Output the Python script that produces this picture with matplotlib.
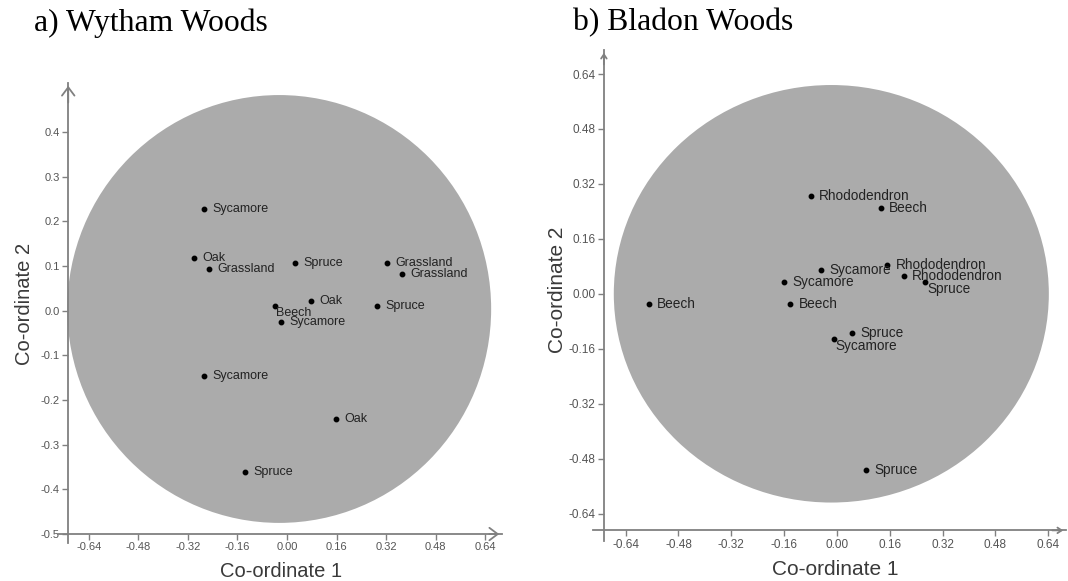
import numpy as np
from matplotlib import pyplot as plt
from matplotlib.patches import Ellipse

plt.rcParams['axes.unicode_minus'] = False
plt.rcParams['font.family'] = ['Liberation Sans', 'DejaVu Sans']

# a) Wytham Woods
wytham_labels = ['Sycamore', 'Oak', 'Grassland', 'Spruce', 'Grassland', 'Grassland',
                 'Beech', 'Oak', 'Spruce', 'Sycamore', 'Sycamore', 'Oak', 'Spruce']
wytham_x = [-0.268, -0.300, -0.252, 0.026, 0.323, 0.371,
            -0.039, 0.077, 0.290, -0.019, -0.268, 0.158, -0.135]
wytham_y = [0.228, 0.118, 0.093, 0.107, 0.107, 0.082,
            0.011, 0.022, 0.011, -0.025, -0.146, -0.242, -0.361]

# b) Bladon Woods
bladon_labels = ['Rhododendron', 'Beech', 'Rhododendron', 'Sycamore', 'Rhododendron',
                 'Sycamore', 'Spruce', 'Beech', 'Beech', 'Spruce', 'Sycamore', 'Spruce']
bladon_x = [-0.079, 0.133, 0.152, -0.048, 0.203,
            -0.161, 0.267, -0.570, -0.142, 0.045, -0.009, 0.088]
bladon_y = [0.284, 0.249, 0.083, 0.069, 0.051,
            0.034, 0.034, -0.031, -0.031, -0.115, -0.133, -0.512]

x_ticks = [-0.64, -0.48, -0.32, -0.16, 0.00, 0.16, 0.32, 0.48, 0.64]
wytham_yticks = [-0.5, -0.4, -0.3, -0.2, -0.1, 0.0, 0.1, 0.2, 0.3, 0.4]
bladon_yticks = x_ticks

axcol = '#808080'
labcol = '#3a3a3a'


def panel(ax, xs, ys, names, yticks, yfmt, xlim, ylim, spine_x, spine_y,
          ell, head, tick_fs, pt_fs, lab_fs, shifted):
    ax.add_patch(Ellipse(ell[0], ell[1], ell[2], facecolor='#ababab',
                         edgecolor='none', zorder=0))
    ax.plot(xs, ys, 'o', color='black', markersize=3.2, zorder=3)
    for i, (x, y, n) in enumerate(zip(xs, ys, names)):
        off = shifted.get(i, (6, 0))
        ax.annotate(n, (x, y), xytext=off, textcoords='offset points',
                    ha='left', va='center', fontsize=pt_fs, color='#222222')
    ax.set_xlim(*xlim)
    ax.set_ylim(*ylim)
    for s in ['top', 'right']:
        ax.spines[s].set_visible(False)
    ax.spines['left'].set_position(('data', spine_x))
    ax.spines['bottom'].set_position(('data', spine_y))
    for s in ['left', 'bottom']:
        ax.spines[s].set_color(axcol)
        ax.spines[s].set_linewidth(1.3)
    ax.set_xticks(x_ticks)
    ax.set_xticklabels(['%.2f' % t for t in x_ticks])
    ax.set_yticks(yticks)
    ax.set_yticklabels([yfmt % t for t in yticks])
    ax.tick_params(colors=axcol, labelcolor='#555555', labelsize=tick_fs,
                   length=4, width=1, pad=2)
    ax.patch.set_visible(False)
    style = '->,head_length=%.2f,head_width=%.2f' % head
    ax.annotate('', xy=(xlim[1], spine_y), xytext=(xlim[1] - 0.05, spine_y),
                arrowprops=dict(arrowstyle=style, color=axcol, lw=1.3))
    ax.annotate('', xy=(spine_x, ylim[1]), xytext=(spine_x, ylim[1] - 0.05),
                arrowprops=dict(arrowstyle=style, color=axcol, lw=1.3))
    ax.set_xlabel('Co-ordinate 1', fontsize=lab_fs, color=labcol)
    ax.set_ylabel('Co-ordinate 2', fontsize=lab_fs, color=labcol)


fig = plt.figure(figsize=(10.68, 5.81), dpi=100)

ax1 = fig.add_axes([58 / 1068, 1 - 543 / 581, 444 / 1068, 460 / 581])
panel(ax1, wytham_x, wytham_y, wytham_labels, wytham_yticks, '%.1f',
      (-0.739, 0.694), (-0.52, 0.51), -0.706, -0.5,
      ((-0.025, 0.004), 2 * 0.684, 2 * 0.479), (0.6, 0.45), 8, 9, 14.5,
      {6: (1, -5)})
ax1.xaxis.set_label_coords(0.502, -0.042)
ax1.yaxis.set_label_coords(-0.055, 0.52)

ax2 = fig.add_axes([593 / 1068, 1 - 541 / 581, 473 / 1068, 491 / 581])
panel(ax2, bladon_x, bladon_y, bladon_labels, bladon_yticks, '%.2f',
      (-0.739, 0.694), (-0.72, 0.71), -0.706, -0.689,
      ((-0.017, 0.0), 2 * 0.659, 2 * 0.608), (0.3, 0.2), 8.5, 9.8, 15,
      {6: (1.5, -5), 10: (1, -5)})
ax2.xaxis.set_label_coords(0.512, -0.038)
ax2.yaxis.set_label_coords(-0.055, 0.511)

fig.text(34 / 1068, 1 - 23 / 581, 'a) Wytham Woods', fontsize=22.8,
         family='Liberation Serif', va='center', ha='left')
fig.text(573 / 1068, 1 - 23 / 581, 'b) Bladon Woods', fontsize=22.8,
         family='Liberation Serif', va='center', ha='left')

fig.savefig('out.png', dpi=100)
